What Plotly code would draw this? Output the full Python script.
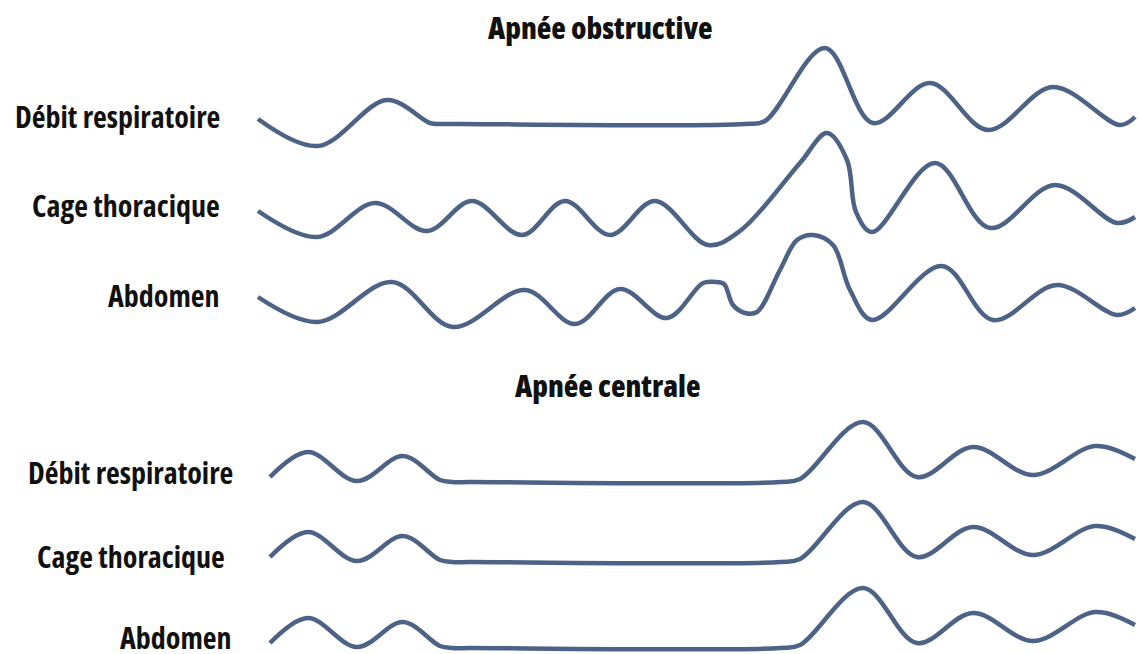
import plotly.graph_objects as go

# ---------------- data (time units, amplitude relative to each channel baseline) ----------------
# Apnée obstructive
obs_debit_t = [258, 318, 387, 430, 440, 460, 745, 765, 825, 873, 930, 988, 1053, 1120, 1135]
obs_debit_a = [5, -22, 24, 1, 0, 0, 0, 3, 76, 1, 41, -6, 37, -1, 7]

obs_cage_t = [258, 317, 375, 427, 472, 522, 565, 610, 655, 708, 740, 800, 827, 847, 856, 872, 935, 990, 1055, 1117, 1135]
obs_cage_a = [9, -17, 17, -11, 19, -15, 19, -15, 19, -25, -11, 57, 87, 60, 8, -12, 57, -8, 35, -3, 3]

obs_abdo_t = [258, 318, 392, 453, 525, 575, 620, 667, 703, 715, 724, 733, 745, 757, 780, 797, 813, 833, 850, 872, 942, 993, 1057, 1117, 1135]
obs_abdo_a = [3, -22, 18, -27, 10, -24, 11, -18, 17, 18, 16, -5, -13, -12, 30, 60, 65, 55, 10, -20, 34, -20, 15, -15, -8]

# Apnée centrale
cen_debit_t = [270, 308, 357, 403, 440, 452, 470, 780, 800, 863, 917, 973, 1033, 1095, 1135]
cen_debit_a = [5, 30, 1, 26, 2, 0, 0, 0, 3, 60, 5, 35, 7, 36, 23]

cen_cage_t = [270, 308, 357, 403, 440, 452, 470, 780, 800, 863, 917, 973, 1033, 1095, 1135]
cen_cage_a = [5, 30, 1, 26, 2, 0, 0, 0, 3, 60, 5, 35, 7, 36, 23]

cen_abdo_t = [270, 308, 357, 403, 440, 452, 470, 780, 800, 863, 917, 973, 1033, 1095, 1135]
cen_abdo_a = [5, 30, 1, 26, 2, 0, 0, 0, 3, 60, 5, 35, 7, 36, 23]

channel_labels = ["Débit respiratoire", "Cage thoracique", "Abdomen"]
panel_titles = ["Apnée obstructive", "Apnée centrale"]

# baselines of each channel (vertical layout position, from top)
obs_baselines = [124, 220, 300]
cen_baselines = [482, 562, 648]

H, W = 654, 1138
LINE = "#4c6286"
FONT = "Open Sans, Liberation Sans, sans-serif"

fig = go.Figure()

series = [
    (obs_debit_t, obs_debit_a, obs_baselines[0]),
    (obs_cage_t, obs_cage_a, obs_baselines[1]),
    (obs_abdo_t, obs_abdo_a, obs_baselines[2]),
    (cen_debit_t, cen_debit_a, cen_baselines[0]),
    (cen_cage_t, cen_cage_a, cen_baselines[1]),
    (cen_abdo_t, cen_abdo_a, cen_baselines[2]),
]
for t, a, base in series:
    fig.add_trace(go.Scatter(
        x=t, y=[H - base + v for v in a], mode="lines",
        line=dict(color=LINE, width=4.5, shape="spline", smoothing=1.0),
        hoverinfo="skip", showlegend=False,
    ))


def stretch(s, how):
    return f'<span style="font-stretch:{how}">{s}</span>'


# channel labels
obs_label_x = [222, 222, 222]
obs_label_y = [116, 205, 295]
cen_label_x = [235, 227, 234]
cen_label_y = [472, 556, 637]
label_font = dict(family=FONT, size=30, color="#111111", weight="bold")
for lab, x, y in zip(channel_labels, obs_label_x, obs_label_y):
    fig.add_annotation(x=x, y=H - y, text=stretch(lab, "condensed"), showarrow=False,
                       xanchor="right", yanchor="middle", font=label_font)
for lab, x, y in zip(channel_labels, cen_label_x, cen_label_y):
    fig.add_annotation(x=x, y=H - y, text=stretch(lab, "condensed"), showarrow=False,
                       xanchor="right", yanchor="middle", font=label_font)

# panel titles
title_x = [600, 607]
title_y = [27, 385]
title_font = dict(family=FONT, size=30, color="#111111", weight=800)
for tt, x, y in zip(panel_titles, title_x, title_y):
    fig.add_annotation(x=x, y=H - y, text=stretch(tt, "semi-condensed"), showarrow=False,
                       xanchor="center", yanchor="middle", font=title_font)

fig.update_layout(
    width=W, height=H,
    margin=dict(l=0, r=0, t=0, b=0),
    paper_bgcolor="white", plot_bgcolor="white",
    xaxis=dict(range=[0, W], visible=False, fixedrange=True),
    yaxis=dict(range=[0, H], visible=False, fixedrange=True),
)

fig.write_html("out.html", config={"displayModeBar": False},
               post_script="document.body.style.margin='0';document.body.style.overflow='hidden';")
